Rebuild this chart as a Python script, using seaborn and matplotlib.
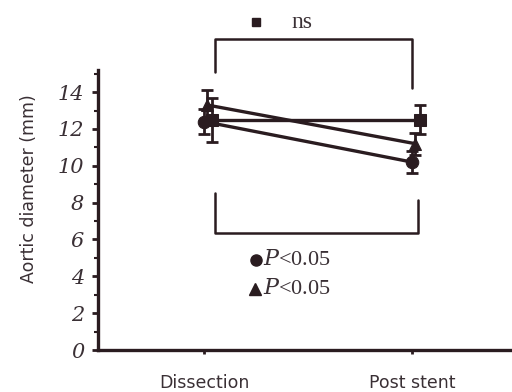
import matplotlib
matplotlib.use("Agg")
import matplotlib.pyplot as plt
import seaborn as sns
import pandas as pd
import numpy as np

# ---- data ----
categories = ["Dissection", "Post stent"]
series_names = ["circle", "triangle", "square"]
circle_vals = [12.4, 10.2]
circle_err = [0.7, 0.6]
triangle_vals = [13.3, 11.2]
triangle_err = [0.8, 0.6]
square_vals = [12.5, 12.5]
square_err = [1.2, 0.8]
y_ticks = [0, 2, 4, 6, 8, 10, 12, 14]
legend_labels = ["ns", "P<0.05", "P<0.05"]

sns.set_style("white")
plt.rcParams["mathtext.fontset"] = "custom"
plt.rcParams["mathtext.it"] = "DejaVu Serif:italic"
plt.rcParams["mathtext.rm"] = "Liberation Serif"
ink = "#2a1c20"
txt = "#3a3035"

fig = plt.figure(figsize=(5.12, 3.92), dpi=100)
ax = fig.add_axes([98 / 512, 42 / 392, 414 / 512, 280 / 392])

rows = []
for name, vals in zip(series_names, [circle_vals, triangle_vals, square_vals]):
    for i, (c, v) in enumerate(zip(categories, vals)):
        rows.append({"series": name, "cat": c, "idx": i, "value": v})
df = pd.DataFrame(rows)

offsets = {"circle": 0.0, "triangle": 0.015, "square": 0.04}
markers = {"circle": "o", "triangle": "^", "square": "s"}
msizes = {"circle": 9, "triangle": 9, "square": 8}
errs = {"circle": circle_err, "triangle": triangle_err, "square": square_err}

for name in series_names:
    sub = df[df.series == name].copy()
    sub["x"] = sub["idx"] + offsets[name]
    ax.errorbar(sub["x"], sub["value"], yerr=errs[name], fmt="none",
                ecolor=ink, elinewidth=2, capsize=4, capthick=2, zorder=2)
    sns.lineplot(data=sub, x="x", y="value", ax=ax, color=ink, lw=2.4,
                 marker=markers[name], markersize=msizes[name],
                 markeredgecolor=ink, markerfacecolor=ink, zorder=3)

ax.set_xlim(-0.51, 1.48)
ax.set_ylim(0, 15.2)
ax.set_xticks([0, 1])
ax.set_xticklabels(categories, fontsize=12.5, color=txt)
ax.set_yticks(y_ticks)
ax.set_yticklabels([str(t) for t in y_ticks], family="DejaVu Serif",
                   fontstyle="italic", fontsize=15, color=txt)
ax.set_yticks(np.arange(1, 16, 2), minor=True)
ax.tick_params(axis="y", which="major", direction="out", length=4, width=2,
               color=ink, pad=6, left=True)
ax.tick_params(axis="y", which="minor", direction="out", length=3, width=1.5,
               color=ink, left=True)
ax.tick_params(axis="x", which="major", direction="out", length=3, width=2,
               color=ink, pad=14, bottom=True)

ax.set_xlabel("")
ax.set_ylabel("Aortic diameter (mm)", fontsize=12.5, color=txt)
ax.yaxis.set_label_coords(-0.145, 0.575)

for s in ["top", "right"]:
    ax.spines[s].set_visible(False)
for s in ["left", "bottom"]:
    ax.spines[s].set_linewidth(2.4)
    ax.spines[s].set_color(ink)

# top bracket (ns)
ax.plot([0.05, 0.05, 1.0, 1.0], [15.1, 16.9, 16.9, 14.2], color=ink, lw=1.8,
        clip_on=False)
ax.plot([0.25], [17.8], marker="s", color=ink, markersize=6, clip_on=False)
ax.text(0.47, 17.8, legend_labels[0], family="Liberation Serif", fontsize=17,
        color=txt, ha="center", va="center", clip_on=False)

# bottom bracket
ax.plot([0.05, 0.05, 1.03, 1.03], [8.5, 6.35, 6.35, 8.15], color=ink, lw=1.8)
ax.plot([0.25], [4.9], marker="o", color=ink, markersize=8)
ax.plot([0.245], [3.3], marker="^", color=ink, markersize=9)
for yv, lab in zip([4.9, 3.3], legend_labels[1:]):
    ax.text(0.285, yv, r"$\mathit{" + lab[0] + "}$" + lab[1:],
            family="Liberation Serif", fontsize=16, color=txt, va="center")

fig.savefig("out.png", dpi=100)
